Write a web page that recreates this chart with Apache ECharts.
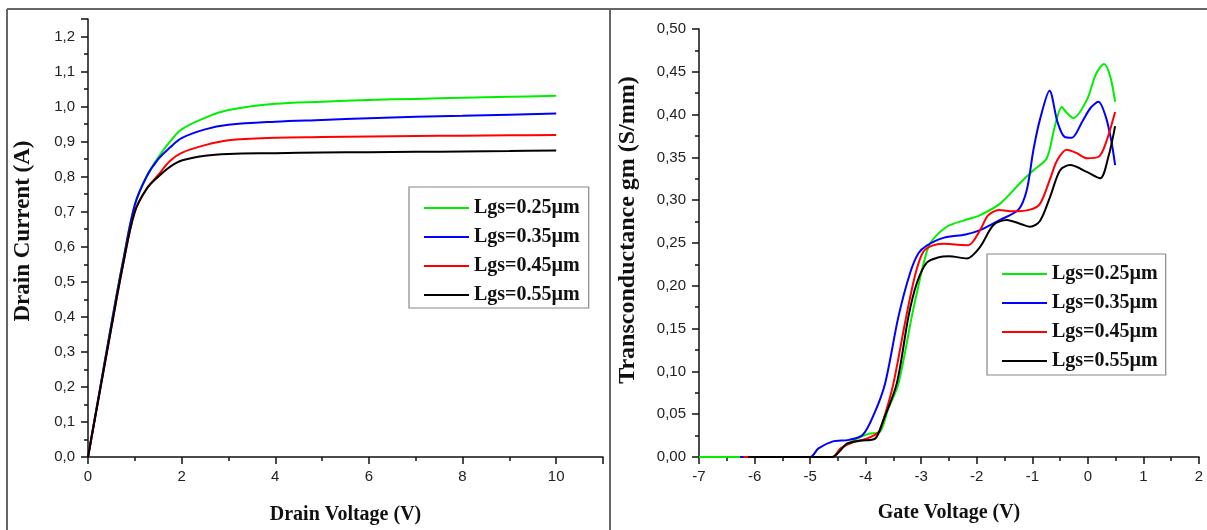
<!DOCTYPE html>
<html><head><meta charset="utf-8">
<script src="https://cdn.jsdelivr.net/npm/echarts@6/dist/echarts.min.js"></script>
<style>html,body{margin:0;padding:0;background:#fff}#c{width:1207px;height:530px}</style>
</head><body><div id="c"></div>
<script>
var seriesNames = ['Lgs=0.25µm','Lgs=0.35µm','Lgs=0.45µm','Lgs=0.55µm'];
var seriesColors = ['#00ee00','#0000ff','#ff0000','#000000'];

// Left: Drain current vs drain voltage
var drainV = [0,0.25,0.5,0.75,1.0,1.25,1.5,1.75,2.0,2.5,3,4,5,6,7,8,9,10];
var id025 = [0,0.19,0.38,0.56,0.72,0.80,0.855,0.90,0.935,0.968,0.99,1.008,1.014,1.019,1.022,1.025,1.028,1.031];
var id035 = [0,0.19,0.38,0.56,0.72,0.80,0.85,0.883,0.91,0.935,0.948,0.957,0.962,0.967,0.971,0.974,0.977,0.980];
var id045 = [0,0.185,0.37,0.55,0.70,0.765,0.805,0.845,0.868,0.890,0.904,0.911,0.913,0.915,0.916,0.917,0.918,0.919];
var id055 = [0,0.185,0.37,0.55,0.70,0.765,0.80,0.828,0.846,0.860,0.865,0.867,0.869,0.870,0.871,0.872,0.873,0.875];

// Right: Transconductance vs gate voltage ([Vg, gm])
var gm025 = [[-7,0],[-4.6,0],[-4.45,0.010],[-4.2,0.020],[-3.95,0.027],[-3.75,0.029],[-3.6,0.055],[-3.41,0.086],[-3.17,0.164],[-3.05,0.200],[-2.95,0.228],[-2.84,0.2495],[-2.54,0.269],[-2.2,0.277],[-1.94,0.2826],[-1.58,0.296],[-1.22,0.32],[-0.98,0.335],[-0.74,0.349],[-0.6,0.385],[-0.47,0.409],[-0.38,0.402],[-0.26,0.396],[-0.02,0.417],[0.15,0.448],[0.29,0.459],[0.4,0.445],[0.49,0.415]];
var gm035 = [[-6.26,0],[-5.0,0],[-4.85,0.010],[-4.6,0.018],[-4.3,0.020],[-4.05,0.026],[-3.85,0.050],[-3.65,0.086],[-3.41,0.164],[-3.2,0.215],[-3.05,0.238],[-2.9,0.247],[-2.6,0.256],[-2.2,0.260],[-1.94,0.265],[-1.58,0.277],[-1.25,0.289],[-1.1,0.312],[-0.98,0.359],[-0.86,0.395],[-0.69,0.428],[-0.55,0.392],[-0.42,0.374],[-0.29,0.373],[-0.1,0.392],[0.05,0.408],[0.19,0.415],[0.32,0.398],[0.42,0.37],[0.49,0.341]];
var gm045 = [[-6.2,0],[-4.6,0],[-4.45,0.010],[-4.22,0.0175],[-4.0,0.021],[-3.77,0.029],[-3.65,0.05],[-3.5,0.086],[-3.27,0.164],[-3.1,0.215],[-2.96,0.240],[-2.8,0.247],[-2.6,0.249],[-2.35,0.248],[-2.15,0.2475],[-1.94,0.265],[-1.8,0.282],[-1.6,0.2885],[-1.34,0.287],[-1.04,0.289],[-0.86,0.296],[-0.68,0.325],[-0.55,0.347],[-0.38,0.359],[-0.2,0.355],[-0.02,0.349],[0.2,0.351],[0.34,0.37],[0.49,0.403]];
var gm055 = [[-6.12,0],[-4.6,0],[-4.45,0.008],[-4.34,0.0156],[-4.1,0.019],[-3.83,0.0215],[-3.7,0.04],[-3.44,0.086],[-3.23,0.164],[-3.08,0.203],[-2.9,0.227],[-2.7,0.233],[-2.5,0.2345],[-2.18,0.232],[-1.94,0.2455],[-1.7,0.271],[-1.46,0.277],[-1.2,0.272],[-1.04,0.269],[-0.86,0.276],[-0.68,0.304],[-0.5,0.335],[-0.32,0.341],[-0.02,0.333],[0.22,0.3255],[0.37,0.351],[0.49,0.3866]];

var leftY = [id025, id035, id045, id055];
var rightY = [gm025, gm035, gm045, gm055];

var chart = echarts.init(document.getElementById('c'), null, {renderer:'canvas'});
var labelFont = {color:'#222', fontFamily:'Liberation Sans, Arial, sans-serif', fontSize:15};
var serif = 'Liberation Serif, Times New Roman, serif';
function nameFont(size, extra){ return Object.assign({color:'#111', fontFamily:serif, fontSize:size, fontWeight:'bold'}, extra||{}); }
var axisLine = {show:true, onZero:false, lineStyle:{color:'#111', width:1.5}};
var tick = {show:true, inside:false, length:7, lineStyle:{color:'#111',width:1.5}};
var minor = {show:true, splitNumber:2, length:4, lineStyle:{color:'#111',width:1.5}};
function commaFmt(dec, step){
  return function(v){
    var k = v/step;
    if (Math.abs(k - Math.round(k)) > 1e-6) return '';
    return v.toFixed(dec).replace('.', ',');
  };
}
var series = [];
for (var i=0;i<4;i++){
  series.push({
    name: seriesNames[i], type:'line', xAxisIndex:0, yAxisIndex:0, symbol:'none', smooth:0.35,
    lineStyle:{color:seriesColors[i], width:2}, itemStyle:{color:seriesColors[i]},
    data: drainV.map(function(v,j){return [v, leftY[i][j]];}), z: 2+i
  });
}
for (var i=0;i<4;i++){
  series.push({
    name: seriesNames[i], type:'line', xAxisIndex:1, yAxisIndex:1, symbol:'none', smooth:0.3,
    lineStyle:{color:seriesColors[i], width:2}, itemStyle:{color:seriesColors[i]},
    data: rightY[i], z: 2+i
  });
}
var legendBase = {
  orient:'vertical', icon:'rect', itemWidth:45, itemHeight:2, itemGap:9,
  borderColor:'#888', borderWidth:1.2, backgroundColor:'#fff',
  textStyle:{color:'#111', fontFamily:serif, fontSize:20, fontWeight:'bold'},
  data: seriesNames, selectedMode:false
};
var option = {
  animation:false,
  backgroundColor:'#fff',
  grid:[
    {left:88, right:604, top:19, bottom:72},
    {left:699, right:8, top:29, bottom:73}
  ],
  legend:[
    Object.assign({}, legendBase, {left:409, top:187, padding:[11,9,3,15]}),
    Object.assign({}, legendBase, {left:987, top:254, padding:[10,8,4,15]})
  ],
  xAxis:[
    {gridIndex:0, type:'value', min:0, max:11, interval:2,
     name:'Drain Voltage (V)', nameLocation:'middle', nameGap:48, nameTextStyle:nameFont(20),
     axisLine:axisLine, axisTick:tick, minorTick:minor,
     splitLine:{show:false}, axisLabel:Object.assign({margin:12, formatter:function(v){return (v%2===0)?String(v):'';}}, labelFont)},
    {gridIndex:1, type:'value', min:-7, max:2, interval:1,
     name:'Gate Voltage (V)', nameLocation:'middle', nameGap:46, nameTextStyle:nameFont(20),
     axisLine:axisLine, axisTick:tick, minorTick:minor,
     splitLine:{show:false}, axisLabel:Object.assign({margin:12}, labelFont)}
  ],
  yAxis:[
    {gridIndex:0, type:'value', min:0, max:1.25, interval:0.1,
     name:'Drain Current (A)', nameLocation:'middle', nameGap:53,
     nameTextStyle:nameFont(23, {padding:[0,0,0,14]}),
     axisLine:axisLine, axisTick:tick, minorTick:minor,
     splitLine:{show:false}, axisLabel:Object.assign({margin:13, formatter:commaFmt(1,0.1)}, labelFont)},
    {gridIndex:1, type:'value', min:0, max:0.5, interval:0.05,
     name:'Transconductance gm (S/mm)', nameLocation:'middle', nameGap:59,
     nameTextStyle:nameFont(24, {padding:[0,0,0,26]}),
     axisLine:axisLine, axisTick:tick, minorTick:minor,
     splitLine:{show:false}, axisLabel:Object.assign({margin:13, formatter:commaFmt(2,0.05)}, labelFont)}
  ],
  graphic:[
    {type:'line', shape:{x1:7, y1:9, x2:1207, y2:9}, style:{stroke:'#666', lineWidth:2}, silent:true},
    {type:'line', shape:{x1:7, y1:9, x2:7, y2:530}, style:{stroke:'#666', lineWidth:2}, silent:true},
    {type:'line', shape:{x1:610, y1:9, x2:610, y2:530}, style:{stroke:'#666', lineWidth:2}, silent:true}
  ],
  series: series
};
chart.setOption(option);
</script></body></html>
